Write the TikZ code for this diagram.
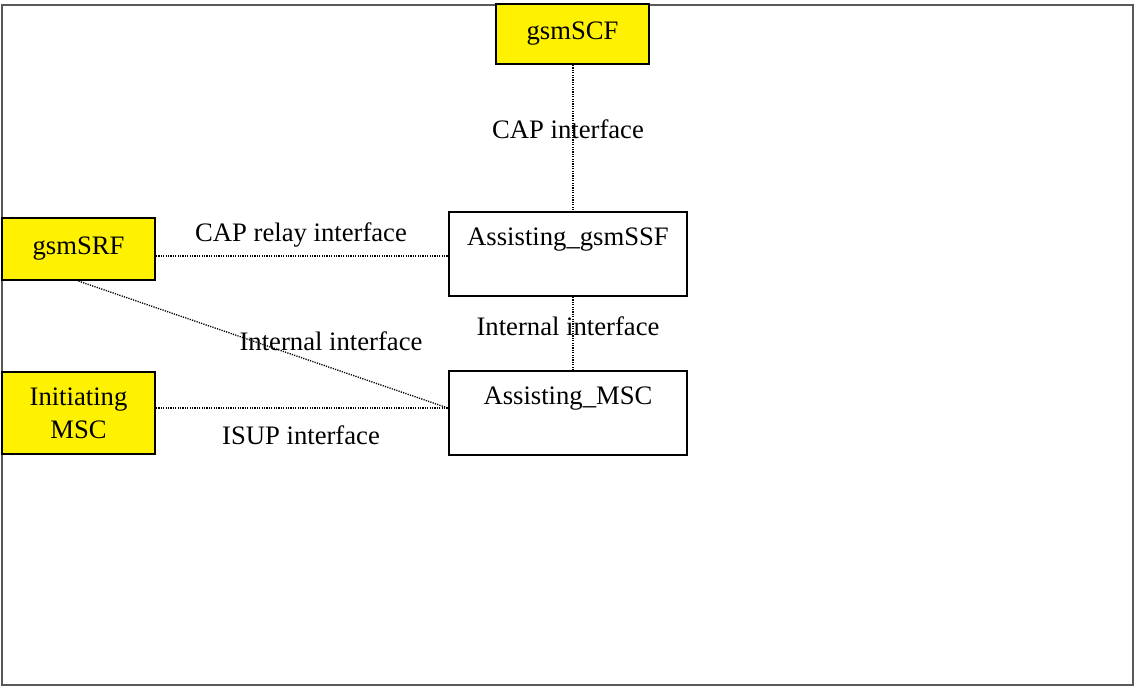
\documentclass[tikz,border=0pt]{standalone}
\usepackage{fontspec}
\setmainfont{Liberation Serif}
\begin{document}
\begin{tikzpicture}[x=0.75pt,y=-0.75pt,
  every node/.style={font=\fontsize{20}{23}\selectfont},
  ybox/.style={draw=black,line width=1.6pt,fill=yellow,inner sep=0pt,align=center},
  wbox/.style={draw=black,line width=1.6pt,fill=white,inner sep=0pt},
  link/.style={draw=black,line width=1pt,dash pattern=on 0.9pt off 0.9pt},
  lbl/.style={inner sep=0pt}]
\useasboundingbox (0,0) rectangle (1134,687);
\draw[draw=black!65,line width=1.2pt] (2,5) rectangle (1133,685);
\node[ybox,minimum width=114.75pt,minimum height=45pt] (scf) at (572.5,34) {gsmSCF};
\node[ybox,minimum width=114.75pt,minimum height=46.5pt] (srf) at (78.5,249) {gsmSRF};
\node[ybox,minimum width=114.75pt,minimum height=61.5pt] (ini) at (78.5,413) {Initiating\\[2pt]MSC};
\node[wbox,minimum width=178.5pt,minimum height=63pt] (ssf) at (568,254) {};
\node[wbox,minimum width=178.5pt,minimum height=63pt] (msc) at (568,413) {};
\node[lbl] (ssft) at (568,240) {Assisting\_gsmSSF};
\node[lbl] (msct) at (568,399) {Assisting\_MSC};
\coordinate (vx) at (573,0);
\draw[link] (scf.south -| vx) -- (ssf.north -| vx);
\draw[link] (srf.east |- 0,256) -- (ssf.west |- 0,256);
\draw[link] (ssf.south -| vx) -- (msc.north -| vx);
\coordinate (mscin) at (msc.west |- 0,408);
\draw[link] (srf.south) -- (mscin);
\draw[link] (ini.east |- mscin) -- (mscin);
\node[lbl] (l1) at (568,129) {CAP interface};
\node[lbl] (l2) at (301,235) {CAP relay interface};
\node[lbl] (l3) at (331,341) {Internal interface};
\node[lbl] (l4) at (568,326) {Internal interface};
\node[lbl] (l5) at (301,435) {ISUP interface};
\end{tikzpicture}
\end{document}
